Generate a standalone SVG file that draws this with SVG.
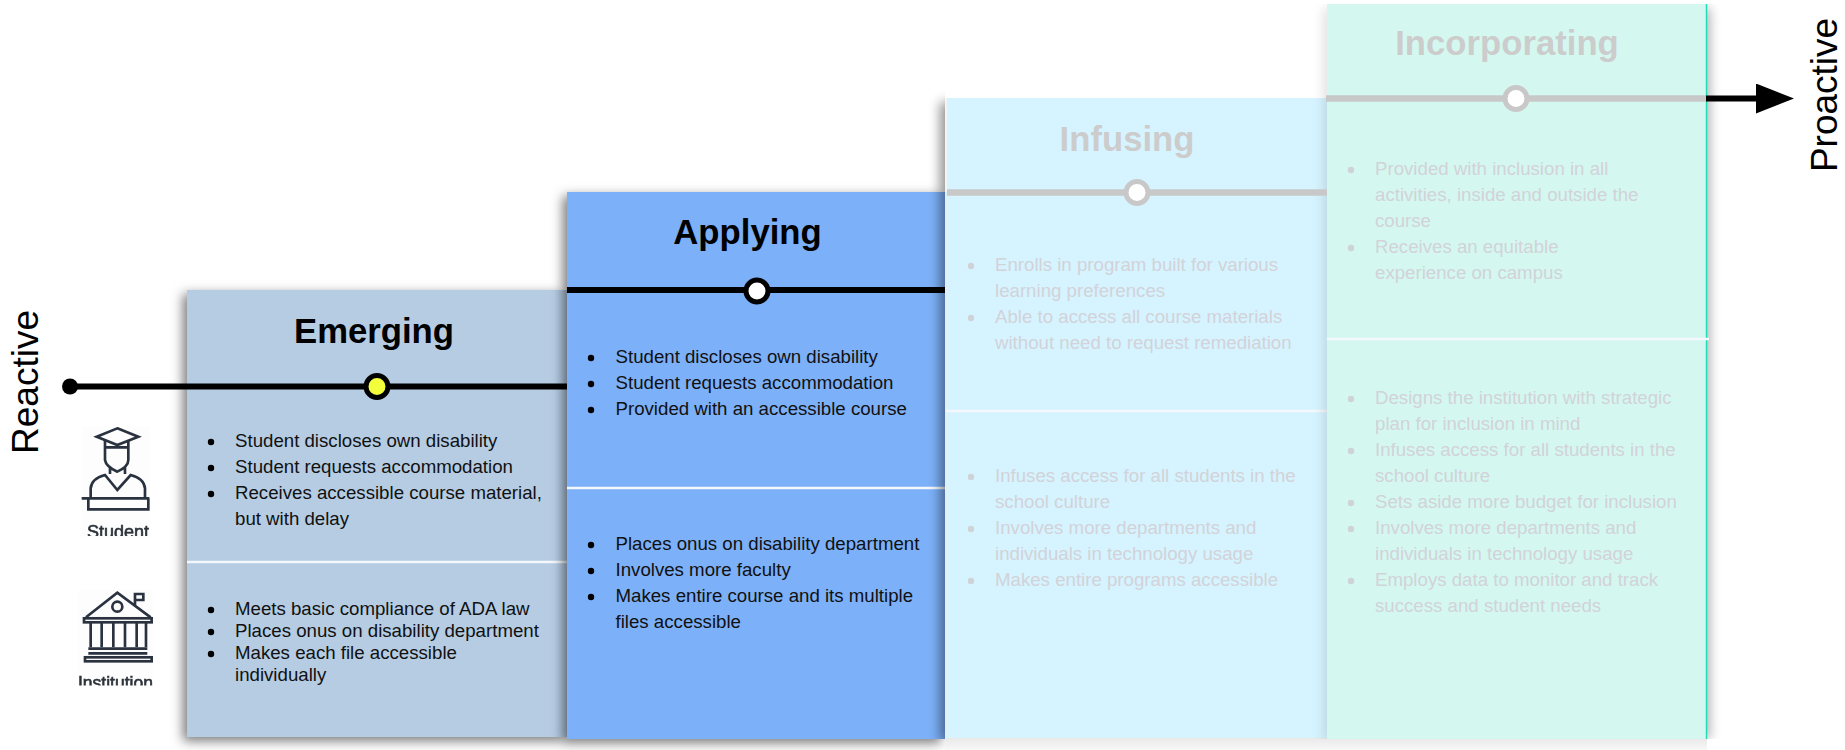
<svg xmlns="http://www.w3.org/2000/svg" width="1845" height="750" viewBox="0 0 1845 750">
<style>
text{font-family:"Liberation Sans",Arial,sans-serif}
.b{font-size:18.67px;fill:#111}
.t{font-size:34.700px;font-weight:bold;fill:#000;text-anchor:middle}
.f{fill:#d2d2d8}
.tf{fill:#cccccc}
.dot{fill:#000}
.dotf{fill:#cfd2d6}
.side{font-size:37px;fill:#000;text-anchor:middle}
.div{stroke:#f4f8fc;stroke-width:2.4}
.tl{stroke:#000;stroke-width:6;fill:none}
.tlf{stroke:#c8c8c8;stroke-width:6.500;fill:none}
.ic{fill:none;stroke:#2a3340;stroke-width:8}
.lab{font-size:18px;fill:#2a3138;stroke:#2a3138;stroke-width:.6}
</style>
<defs>
<filter id="sh" x="-15%" y="-10%" width="130%" height="120%"><feDropShadow dx="-4" dy="4" stdDeviation="6" flood-color="#000" flood-opacity=".52"/></filter>
<filter id="bl" x="-30%" y="-10%" width="160%" height="120%"><feGaussianBlur stdDeviation="6"/></filter>
<filter id="soft" x="-5%" y="-5%" width="110%" height="110%"><feGaussianBlur stdDeviation=".55"/></filter>
<linearGradient id="band" x1="0" y1="0" x2="0" y2="1"><stop offset="0" stop-color="#e9e9e9"/><stop offset="1" stop-color="#f8f8f8"/></linearGradient>
<marker id="ah" markerUnits="userSpaceOnUse" markerWidth="40" markerHeight="32" refX="0" refY="15" orient="auto"><path d="M0 0L38 15L0 30z" fill="#000"/></marker>
<clipPath id="c1"><rect x="82" y="520" width="68" height="16"/></clipPath>
<clipPath id="c2"><rect x="78" y="670" width="75" height="15.500"/></clipPath>
<clipPath id="cinf"><rect x="910" y="90" width="35" height="649"/></clipPath>
<clipPath id="cincl"><rect x="1295" y="4" width="32" height="735"/></clipPath>
<clipPath id="cincr"><rect x="1707" y="4" width="40" height="735"/></clipPath>
</defs>
<rect width="1845" height="750" fill="#fff"/>

<g id="emerging">
<rect x="187" y="290" width="380" height="447" fill="#b5cce3" filter="url(#sh)"/>
<line class="div" x1="187" y1="562" x2="567" y2="562"/>
<text class="t" x="374" y="343">Emerging</text>
<circle class="dot" cx="211" cy="442" r="3.2"/><circle class="dot" cx="211" cy="468" r="3.2"/><circle class="dot" cx="211" cy="494" r="3.2"/>
<text class="b" x="235" y="446.500">Student discloses own disability</text>
<text class="b" x="235" y="472.500">Student requests accommodation</text>
<text class="b" x="235" y="498.500">Receives accessible course material,</text>
<text class="b" x="235" y="524.500">but with delay</text>
<circle class="dot" cx="211" cy="610" r="3.2"/><circle class="dot" cx="211" cy="632" r="3.2"/><circle class="dot" cx="211" cy="654" r="3.2"/>
<text class="b" x="235" y="614.500">Meets basic compliance of ADA law</text>
<text class="b" x="235" y="636.500">Places onus on disability department</text>
<text class="b" x="235" y="658.500">Makes each file accessible</text>
<text class="b" x="235" y="680.500">individually</text>
</g>

<g id="applying">
<rect x="567" y="192" width="378" height="547" fill="#7cb0f8" filter="url(#sh)"/>
<line class="div" x1="567" y1="488" x2="946" y2="488"/>
<text class="t" x="747.500" y="244">Applying</text>
<circle class="dot" cx="591" cy="358" r="3.2"/><circle class="dot" cx="591" cy="384" r="3.2"/><circle class="dot" cx="591" cy="410" r="3.2"/>
<text class="b" x="615.500" y="362.700">Student discloses own disability</text>
<text class="b" x="615.500" y="388.700">Student requests accommodation</text>
<text class="b" x="615.500" y="414.700">Provided with an accessible course</text>
<circle class="dot" cx="591" cy="545" r="3.2"/><circle class="dot" cx="591" cy="571" r="3.2"/><circle class="dot" cx="591" cy="597" r="3.2"/>
<text class="b" x="615.500" y="549.700">Places onus on disability department</text>
<text class="b" x="615.500" y="575.700">Involves more faculty</text>
<text class="b" x="615.500" y="601.700">Makes entire course and its multiple</text>
<text class="b" x="615.500" y="627.700">files accessible</text>
</g>

<g id="infusing">
<rect x="945" y="738" width="762" height="12" fill="url(#band)"/>
<rect x="940" y="102" width="60" height="640" fill="#000" opacity=".42" filter="url(#bl)" clip-path="url(#cinf)"/>
<rect x="947" y="98" width="380" height="640" fill="#d6f4ff"/>
<rect x="945" y="192" width="2" height="547" fill="#e2eff6"/>
<rect x="945" y="98" width="2" height="94" fill="#f4f4f4"/>
<line class="div" x1="946" y1="411" x2="1327" y2="411"/>
<text class="t tf" x="1127" y="151">Infusing</text>
<circle class="dotf" cx="971" cy="266" r="3.2"/><circle class="dotf" cx="971" cy="318" r="3.2"/>
<text class="b f" x="995" y="270.700">Enrolls in program built for various</text>
<text class="b f" x="995" y="296.700">learning preferences</text>
<text class="b f" x="995" y="322.700">Able to access all course materials</text>
<text class="b f" x="995" y="348.700">without need to request remediation</text>
<circle class="dotf" cx="971" cy="477" r="3.2"/><circle class="dotf" cx="971" cy="529" r="3.2"/><circle class="dotf" cx="971" cy="581" r="3.2"/>
<text class="b f" x="995" y="481.700">Infuses access for all students in the</text>
<text class="b f" x="995" y="507.700">school culture</text>
<text class="b f" x="995" y="533.700">Involves more departments and</text>
<text class="b f" x="995" y="559.700">individuals in technology usage</text>
<text class="b f" x="995" y="585.700">Makes entire programs accessible</text>
</g>

<g id="incorporating">
<rect x="1323" y="8" width="60" height="735" fill="#000" opacity=".11" filter="url(#bl)" clip-path="url(#cincl)"/>
<rect x="1660" y="8" width="50" height="731" fill="#000" opacity=".3" filter="url(#bl)" clip-path="url(#cincr)"/>
<rect x="1327" y="4" width="380" height="735" fill="#d4f8f0"/>
<line x1="1706.500" y1="4" x2="1706.500" y2="739" stroke="#1fdcb8" stroke-width="1.400"/>
<line class="div" x1="1327" y1="339" x2="1709" y2="339"/>
<text class="t tf" x="1507" y="55">Incorporating</text>
<circle class="dotf" cx="1351" cy="170" r="3.2"/><circle class="dotf" cx="1351" cy="248" r="3.2"/>
<text class="b f" x="1375" y="175">Provided with inclusion in all</text>
<text class="b f" x="1375" y="201">activities, inside and outside the</text>
<text class="b f" x="1375" y="227">course</text>
<text class="b f" x="1375" y="253">Receives an equitable</text>
<text class="b f" x="1375" y="279">experience on campus</text>
<circle class="dotf" cx="1351" cy="399" r="3.2"/><circle class="dotf" cx="1351" cy="451" r="3.2"/><circle class="dotf" cx="1351" cy="503" r="3.2"/><circle class="dotf" cx="1351" cy="529" r="3.2"/><circle class="dotf" cx="1351" cy="581" r="3.2"/>
<text class="b f" x="1375" y="404">Designs the institution with strategic</text>
<text class="b f" x="1375" y="430">plan for inclusion in mind</text>
<text class="b f" x="1375" y="456">Infuses access for all students in the</text>
<text class="b f" x="1375" y="482">school culture</text>
<text class="b f" x="1375" y="508">Sets aside more budget for inclusion</text>
<text class="b f" x="1375" y="534">Involves more departments and</text>
<text class="b f" x="1375" y="560">individuals in technology usage</text>
<text class="b f" x="1375" y="586">Employs data to monitor and track</text>
<text class="b f" x="1375" y="612">success and student needs</text>
</g>

<g id="connectors">
<line class="tl" x1="70" y1="386.500" x2="567" y2="386.500"/>
<line class="tl" x1="567" y1="290" x2="945" y2="290"/>
<line class="tlf" x1="947" y1="192.500" x2="1327" y2="192.500"/>
<line class="tlf" x1="1326" y1="98.500" x2="1706" y2="98.500"/>
<line class="tl" x1="1706" y1="98.500" x2="1756" y2="98.500" marker-end="url(#ah)"/>
</g>

<g id="markers">
<circle cx="70" cy="386.500" r="8" fill="#000"/>
<circle cx="377" cy="386.500" r="11" fill="#f2ff3a" stroke="#000" stroke-width="5"/>
<circle cx="757" cy="291" r="11" fill="#fff" stroke="#000" stroke-width="5"/>
<circle cx="1137" cy="192.500" r="11" fill="#fff" stroke="#c8c8c8" stroke-width="5"/>
<circle cx="1516" cy="98.500" r="11" fill="#fff" stroke="#c8c8c8" stroke-width="5"/>
</g>

<g id="reactive"><text class="side" transform="translate(38 382) rotate(-90)">Reactive</text></g>
<g id="proactive"><text class="side" transform="translate(1837 95) rotate(-90)">Proactive</text></g>

<g id="student">
<rect x="82" y="427" width="68" height="110" fill="#fdfdfe"/>
<g transform="translate(60 410) scale(.3333)" class="ic" filter="url(#soft)">
<path d="M172 55L235 80L172 105L110 80Z"/>
<path d="M135 92V112H205V92M135 112V150Q138 170 172 185Q205 170 205 150V112M150 172V192M195 172V192"/>
<path d="M92 265V235Q95 205 135 195L172 240L212 195Q252 205 255 235V265"/>
<path d="M65 265H268M85 265V298H265V265"/>
</g>
<text class="lab" x="87" y="538" clip-path="url(#c1)" filter="url(#soft)">Student</text>
</g>

<g id="institution">
<rect x="78" y="590" width="75" height="96" fill="#fdfdfe"/>
<g transform="translate(60 410) scale(.3333)" class="ic" filter="url(#soft)">
<path d="M78 622L172 548L272 622"/>
<circle cx="172" cy="590" r="15"/>
<path d="M225 585V552H250V570H225"/>
<rect x="72" y="625" width="203" height="12"/>
<path d="M92 637V712M125 637V712M160 637V712M195 637V712M230 637V712M258 637V712"/>
<path d="M85 716H262M85 730H262"/>
<rect x="75" y="742" width="200" height="12"/>
</g>
<text class="lab" x="78" y="689" style="font-size:17.500px" clip-path="url(#c2)" filter="url(#soft)">Institution</text>
</g>
</svg>
